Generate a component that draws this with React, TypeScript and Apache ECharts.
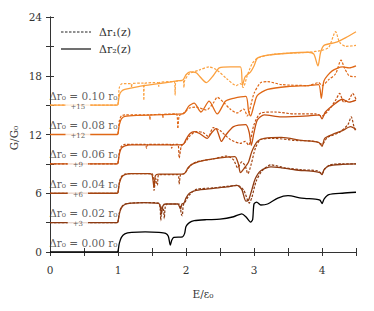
import React, { useEffect, useRef } from "react";
import * as echarts from "echarts";

// ---- data (base conductance, offset added per level) ----
const levelNames = ["0.00", "0.02", "0.04", "0.06", "0.08", "0.10"];
const offsets = [0, 3, 6, 9, 12, 15];
const colors = ["#000000", "#8c3a12", "#a44410", "#c6500f", "#e06816", "#fba03e"];
const xTicks = [0, 1, 2, 3, 4];
const yTicks = [0, 6, 12, 18, 24];

const solid000 = [[0,0],[0.99,0],[1.0,0.1],[1.02,0.9],[1.05,1.5],[1.1,1.85],[1.2,2.0],[1.4,2.05],[1.6,2.0],[1.7,1.9],[1.74,1.6],[1.77,0.7],[1.79,1.2],[1.82,1.5],[1.95,1.55],[1.98,1.9],[2.0,2.6],[2.05,3.0],[2.12,3.2],[2.3,3.3],[2.5,3.35],[2.7,3.6],[2.82,3.9],[2.88,3.6],[2.95,3.05],[2.98,3.3],[3.0,4.9],[3.04,5.1],[3.1,4.8],[3.2,4.9],[3.35,5.5],[3.5,5.75],[3.7,5.5],[3.9,5.4],[3.97,5.3],[4.0,4.95],[4.03,5.4],[4.1,5.85],[4.3,6.0],[4.5,6.1]];

const solid002 = [[0,0],[0.99,0],[1.0,0.1],[1.02,0.9],[1.05,1.5],[1.1,1.85],[1.2,2.0],[1.4,2.05],[1.55,2.0],[1.61,1.9],[1.64,0.9],[1.66,1.7],[1.7,1.9],[1.88,1.9],[1.92,1.4],[1.94,1.9],[1.97,2.0],[2.0,2.5],[2.05,3.0],[2.15,3.3],[2.4,3.5],[2.6,3.65],[2.75,3.8],[2.82,3.4],[2.88,2.2],[2.92,2.3],[2.97,3.4],[3.02,4.5],[3.1,5.3],[3.25,5.7],[3.4,5.6],[3.6,5.4],[3.9,5.2],[3.97,5.1],[4.0,4.9],[4.03,5.4],[4.1,5.8],[4.3,5.95],[4.5,6.0]];
const dashed002 = [[0,0],[0.99,0],[1.0,0.1],[1.02,1.0],[1.05,1.6],[1.1,1.9],[1.2,2.0],[1.4,2.05],[1.6,2.0],[1.62,1.4],[1.63,0.2],[1.645,1.6],[1.67,1.3],[1.68,0.4],[1.695,1.6],[1.72,1.9],[1.9,1.9],[1.93,0.9],[1.945,0.7],[1.96,1.8],[1.98,2.0],[2.01,2.4],[2.06,2.9],[2.15,3.4],[2.4,3.55],[2.6,3.7],[2.76,3.8],[2.85,3.3],[2.93,2.0],[2.97,2.6],[3.03,4.2],[3.12,5.3],[3.25,5.9],[3.45,5.6],[3.7,5.4],[3.93,5.3],[4.0,5.0],[4.04,5.5],[4.12,5.9],[4.3,6.0],[4.5,6.0]];

const solid004 = [[0,0],[0.99,0],[1.0,0.1],[1.02,1.0],[1.05,1.6],[1.1,1.9],[1.2,2.0],[1.45,2.0],[1.5,1.9],[1.53,0.6],[1.55,1.8],[1.6,1.95],[1.95,1.95],[1.99,2.1],[2.03,2.6],[2.1,3.0],[2.3,3.4],[2.6,3.7],[2.72,3.75],[2.77,3.0],[2.8,2.1],[2.85,2.5],[2.92,3.2],[2.97,4.3],[3.05,5.3],[3.15,5.6],[3.4,5.7],[3.7,5.4],[3.95,5.2],[4.0,4.8],[4.04,5.6],[4.15,6.0],[4.3,6.4],[4.42,6.8],[4.5,6.5]];
const dashed004 = [[0,0],[0.99,0],[1.0,0.1],[1.02,1.1],[1.05,1.7],[1.1,1.95],[1.2,2.0],[1.5,2.0],[1.53,0.3],[1.555,1.5],[1.58,0.8],[1.6,1.9],[1.88,1.9],[1.9,0.9],[1.92,1.9],[1.97,2.0],[2.01,2.3],[2.06,2.8],[2.15,3.2],[2.4,3.5],[2.6,3.8],[2.7,3.4],[2.76,2.6],[2.82,3.2],[2.87,2.8],[2.91,2.0],[2.96,3.0],[3.02,4.6],[3.1,5.5],[3.3,5.6],[3.6,5.4],[3.9,5.3],[4.0,5.0],[4.08,5.7],[4.25,6.2],[4.38,7.0],[4.43,7.8],[4.47,6.8],[4.5,6.3]];

const solid006 = [[0,0],[0.99,0],[1.0,0.1],[1.02,1.0],[1.05,1.6],[1.1,1.85],[1.2,1.95],[1.9,1.95],[1.96,2.0],[2.0,2.5],[2.06,3.1],[2.12,3.3],[2.2,3.1],[2.31,2.6],[2.38,3.2],[2.44,3.6],[2.48,3.0],[2.52,2.3],[2.58,2.9],[2.7,3.8],[2.88,4.0],[2.93,3.2],[2.96,1.9],[3.0,3.2],[3.05,4.5],[3.15,5.0],[3.4,4.8],[3.8,4.9],[3.96,5.0],[4.0,4.6],[4.05,5.3],[4.2,6.2],[4.3,6.6],[4.4,6.3],[4.5,6.5]];
const dashed006 = [[0,0],[0.99,0],[1.0,0.1],[1.02,1.2],[1.05,1.8],[1.1,2.0],[1.4,2.0],[1.42,1.6],[1.44,2.0],[1.77,2.0],[1.79,1.6],[1.81,2.0],[1.88,2.0],[1.9,0.6],[1.93,1.8],[1.96,2.0],[2.0,2.3],[2.05,2.8],[2.15,3.3],[2.25,3.2],[2.33,2.8],[2.4,3.7],[2.5,3.4],[2.65,2.5],[2.8,2.1],[2.87,2.3],[2.92,1.9],[3.0,4.0],[3.1,5.2],[3.3,5.3],[3.6,5.1],[3.9,5.1],[4.0,4.9],[4.1,5.5],[4.2,6.5],[4.26,7.2],[4.32,6.3],[4.4,6.6],[4.45,7.2],[4.5,6.6]];

const solid008 = [[0,0],[0.99,0],[1.0,0.1],[1.02,1.0],[1.05,1.6],[1.1,1.85],[1.3,1.95],[1.95,2.1],[1.99,2.3],[2.04,2.9],[2.12,3.2],[2.22,2.3],[2.34,3.4],[2.46,2.1],[2.58,3.4],[2.7,3.7],[2.88,3.9],[2.92,2.4],[2.95,1.9],[3.0,3.0],[3.05,4.0],[3.2,4.6],[3.5,4.9],[3.8,5.0],[3.95,5.1],[3.99,3.7],[4.03,5.5],[4.15,6.5],[4.3,6.9],[4.4,6.8],[4.5,7.0]];
const dashed008 = [[0,0],[0.99,0],[1.0,0.1],[1.02,1.4],[1.05,1.9],[1.1,2.0],[1.46,2.0],[1.47,1.5],[1.48,2.0],[1.65,2.05],[1.66,1.7],[1.67,2.05],[1.86,2.1],[1.88,0.6],[1.9,1.9],[1.95,2.1],[2.0,2.4],[2.05,2.7],[2.15,2.8],[2.3,2.5],[2.4,3.2],[2.46,3.8],[2.55,3.3],[2.65,2.6],[2.75,2.2],[2.85,2.6],[2.9,1.9],[3.0,4.2],[3.1,5.3],[3.2,5.4],[3.4,5.1],[3.8,5.0],[3.95,5.3],[4.0,5.0],[4.1,5.6],[4.2,6.2],[4.28,7.6],[4.33,6.8],[4.4,6.0],[4.5,5.9]];

const solid010 = [[0,0],[0.99,0],[1.0,0.1],[1.02,1.0],[1.05,1.4],[1.1,1.6],[1.3,1.9],[1.6,2.2],[1.9,2.5],[1.96,2.6],[2.0,3.1],[2.06,3.4],[2.15,3.3],[2.3,2.3],[2.4,3.0],[2.49,3.8],[2.65,3.9],[2.8,3.9],[2.83,2.0],[2.87,2.9],[2.95,3.4],[3.0,4.0],[3.05,4.8],[3.2,5.1],[3.5,5.3],[3.8,5.4],[3.88,5.2],[3.94,4.0],[3.98,5.4],[4.03,6.1],[4.2,6.4],[4.35,6.9],[4.5,7.5]];
const dashed010 = [[0,0],[0.99,0],[1.0,0.1],[1.02,1.8],[1.06,2.2],[1.19,2.2],[1.2,1.8],[1.21,2.2],[1.37,2.25],[1.38,0.5],[1.39,2.2],[1.59,2.3],[1.6,1.9],[1.61,2.3],[1.83,2.4],[1.84,1.0],[1.85,2.4],[1.96,2.5],[1.97,1.8],[1.98,2.5],[2.05,3.2],[2.2,3.6],[2.34,3.9],[2.45,3.6],[2.6,2.7],[2.74,2.0],[2.8,2.2],[2.84,1.8],[2.9,3.0],[2.97,4.2],[3.05,4.8],[3.3,5.2],[3.8,5.4],[4.0,5.6],[4.1,5.9],[4.2,7.5],[4.26,6.4],[4.35,6.0],[4.5,6.1]];

const solidCurves = [solid000, solid002, solid004, solid006, solid008, solid010];
const dashedCurves = [null, dashed002, dashed004, dashed006, dashed008, dashed010];

const labelE = 0.49;
const offsetLabelE = 0.41;

export default function App() {
  const ref = useRef<HTMLDivElement>(null);
  useEffect(() => {
    const chart = echarts.init(ref.current!, null, { renderer: "svg" });
    const font = "DejaVu Serif";
    const txt = "#333";
    const series: any[] = [];
    levelNames.forEach((_, i) => {
      const off = offsets[i];
      const d = dashedCurves[i];
      if (d) {
        series.push({
          type: "line",
          data: d.map(([e, g]) => [e, g + off]),
          showSymbol: false,
          symbol: "none",
          smooth: 0.25,
          lineStyle: { color: colors[i], width: 1.2, type: [2.5, 1.5] },
          z: 2,
        });
      }
      series.push({
        type: "line",
        data: solidCurves[i].map(([e, g]) => [e, g + off]),
        showSymbol: false,
        symbol: "none",
        smooth: 0.25,
        lineStyle: { color: colors[i], width: 1.3 },
        z: 3,
      });
    });
    series.push({
      type: "scatter",
      symbolSize: 0,
      z: 10,
      silent: true,
      data: levelNames.map((n, i) => ({ value: [labelE, offsets[i]], name: "Δr₀ = " + n + " r₀" })),
      label: {
        show: true,
        position: "top",
        distance: 4,
        formatter: (p: any) => p.name,
        fontFamily: font,
        fontSize: 10.5,
        color: txt,
      },
    });
    series.push({
      type: "scatter",
      symbolSize: 0,
      z: 10,
      silent: true,
      data: offsets.slice(1).map((o) => ({ value: [offsetLabelE, o], name: "+" + o })),
      label: {
        show: true,
        position: "inside",
        offset: [0, 1.5],
        formatter: (p: any) => p.name,
        fontFamily: font,
        fontSize: 7,
        color: txt,
        backgroundColor: "#fff",
        padding: [0, 5, 0, 5],
      },
    });

    const xBase = {
      type: "value",
      min: 0,
      max: 4.5,
      interval: 0.5,
      splitLine: { show: false },
      axisLine: { lineStyle: { color: "#333", width: 1 } },
      axisTick: { inside: true, length: 4, lineStyle: { color: "#333" } },
    };
    const yBase = {
      type: "value",
      min: 0,
      max: 24,
      interval: 3,
      splitLine: { show: false },
      axisLine: { lineStyle: { color: "#333", width: 1 } },
      axisTick: { inside: true, length: 4, lineStyle: { color: "#333" } },
    };

    chart.setOption({
      animation: false,
      grid: { left: 50, right: 18, top: 17, bottom: 59, containLabel: false },
      xAxis: [
        {
          ...xBase,
          position: "bottom",
          axisLabel: {
            margin: 12,
            fontFamily: font,
            fontSize: 10.5,
            color: txt,
            formatter: (v: number) => (xTicks.includes(v) ? String(v) : ""),
          },
        },
        { ...xBase, position: "top", axisLabel: { show: false } },
      ],
      yAxis: [
        {
          ...yBase,
          position: "left",
          axisLabel: {
            margin: 8,
            fontFamily: font,
            fontSize: 10.5,
            color: txt,
            formatter: (v: number) => (yTicks.includes(v) ? String(v) : ""),
          },
        },
        { ...yBase, position: "right", axisLabel: { show: false } },
      ],
      graphic: [
        { type: "line", shape: { x1: 61, y1: 32, x2: 91, y2: 32 }, style: { stroke: "#222", lineWidth: 1.2, lineDash: [2.5, 1.5] } },
        { type: "text", x: 99, y: 32, style: { text: "Δr₁(z)", fontFamily: font, fontSize: 11, fill: txt, textVerticalAlign: "middle" } },
        { type: "line", shape: { x1: 61, y1: 49, x2: 91, y2: 49 }, style: { stroke: "#222", lineWidth: 1.3 } },
        { type: "text", x: 99, y: 49, style: { text: "Δr₂(z)", fontFamily: font, fontSize: 11, fill: txt, textVerticalAlign: "middle" } },
        { type: "text", x: 14, y: 138, rotation: Math.PI / 2, style: { text: "G/G₀", fontFamily: font, fontSize: 10.5, fill: txt, textAlign: "center", textVerticalAlign: "middle" } },
        { type: "text", x: 203, y: 294, style: { text: "E/ε₀", fontFamily: font, fontSize: 10.5, fill: txt, textAlign: "center", textVerticalAlign: "middle" } },
      ],
      series,
    });
    return () => chart.dispose();
  }, []);
  return <div ref={ref} style={{ position: "absolute", left: 0, top: 0, width: 374, height: 311 }} />;
}
